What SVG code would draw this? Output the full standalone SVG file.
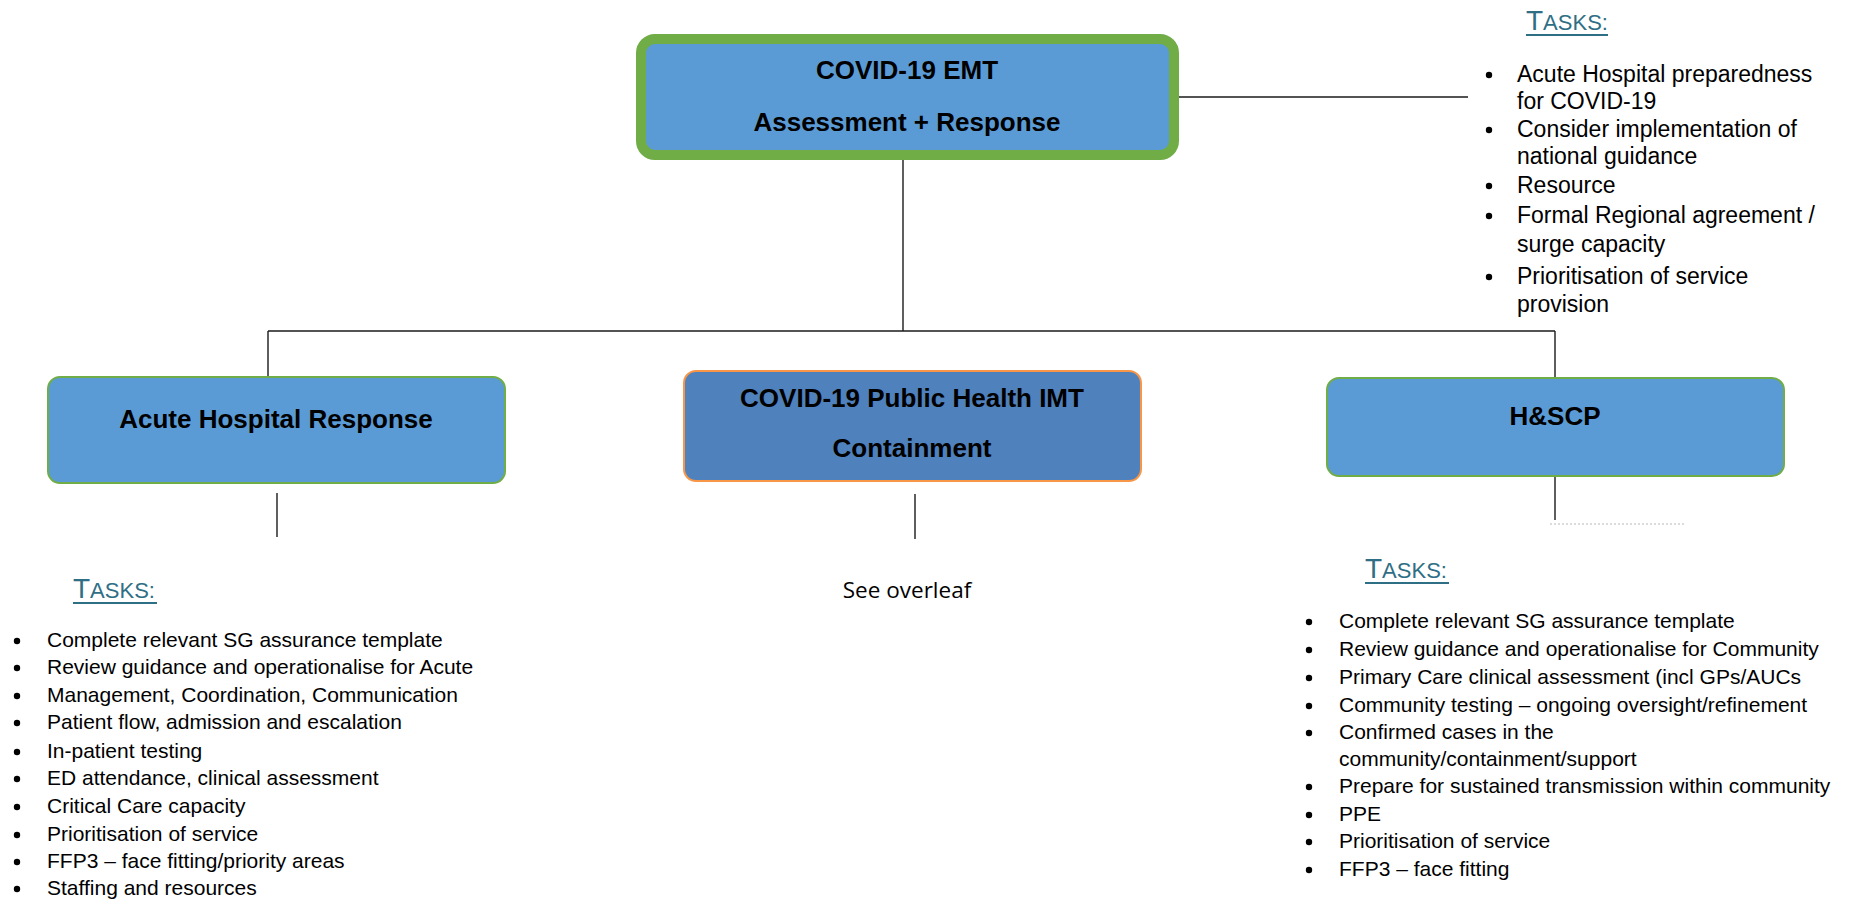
<svg xmlns="http://www.w3.org/2000/svg" xmlns:xlink="http://www.w3.org/1999/xlink" width="1850" height="901" viewBox="0 0 1850 901">
  <style>
    .box-blue { fill: #5b9bd5; }
    .title { font-family: "Liberation Sans", Arial, sans-serif; font-weight: bold; font-size: 26px; fill: #000; text-anchor: middle; }
    .hdr { font-family: "Liberation Sans", Arial, sans-serif; fill: #2f6f86; }
    .item { font-family: "Liberation Sans", Arial, sans-serif; font-size: 21px; fill: #000; }
    .item-lg { font-family: "Liberation Sans", Arial, sans-serif; font-size: 23px; fill: #000; }
    .note { font-family: "Open Sans", "Noto Sans", sans-serif; font-size: 22.5px; fill: #000; text-anchor: middle; }
    .link { stroke: #1a1a1a; stroke-width: 1.4; fill: none; }
    .uline { stroke: #2f6f86; stroke-width: 2; }
  </style>
  <defs>
    <circle id="dot" r="3.2" fill="#000"/>
  </defs>

  <rect width="1850" height="901" fill="#ffffff"/>

  <!-- connectors -->
  <g id="connectors">
    <line class="link" x1="903" y1="160" x2="903" y2="331"/>
    <line class="link" x1="268" y1="331" x2="1555" y2="331"/>
    <line class="link" x1="268" y1="331" x2="268" y2="377"/>
    <line class="link" x1="1555" y1="331" x2="1555" y2="378"/>
    <line class="link" x1="1179" y1="97" x2="1468" y2="97"/>
    <line class="link" x1="277" y1="493" x2="277" y2="537"/>
    <line class="link" x1="915" y1="494" x2="915" y2="539"/>
    <line class="link" x1="1555" y1="476" x2="1555" y2="520"/>
    <line x1="1550" y1="524" x2="1685" y2="524" stroke="#b8b8b8" stroke-width="1" stroke-dasharray="2 2"/>
  </g>

  <!-- EMT (top) -->
  <g id="node-emt">
    <rect x="641" y="39" width="533" height="116" rx="14" class="box-blue" stroke="#70ad47" stroke-width="10"/>
    <text class="title" x="907" y="79">COVID-19 EMT</text>
    <text class="title" x="907" y="131">Assessment + Response</text>
  </g>

  <!-- Acute Hospital Response -->
  <g id="node-acute">
    <rect x="48" y="377" width="457" height="106" rx="12" class="box-blue" stroke="#70ad47" stroke-width="2"/>
    <text class="title" x="276" y="428">Acute Hospital Response</text>
  </g>

  <!-- Public Health IMT -->
  <g id="node-imt">
    <rect x="684" y="371" width="457" height="110" rx="12" fill="#4f81bd" stroke="#f79646" stroke-width="2"/>
    <text class="title" x="912" y="407">COVID-19 Public Health IMT</text>
    <text class="title" x="912" y="457">Containment</text>
  </g>

  <!-- H&SCP -->
  <g id="node-hscp">
    <rect x="1327" y="378" width="457" height="98" rx="12" class="box-blue" stroke="#70ad47" stroke-width="2"/>
    <text class="title" x="1555" y="425">H&amp;SCP</text>
  </g>

  <!-- EMT tasks -->
  <g id="tasks-emt">
    <text class="hdr" x="1526" y="30"><tspan font-size="28">T</tspan><tspan font-size="22">ASKS:</tspan></text>
    <line class="uline" x1="1526" y1="35" x2="1608" y2="35"/>
    <use xlink:href="#dot" x="1489" y="75"/>
    <text class="item-lg" x="1517" y="82">Acute Hospital preparedness</text>
    <text class="item-lg" x="1517" y="109">for COVID-19</text>
    <use xlink:href="#dot" x="1489" y="130"/>
    <text class="item-lg" x="1517" y="137">Consider implementation of</text>
    <text class="item-lg" x="1517" y="164">national guidance</text>
    <use xlink:href="#dot" x="1489" y="186"/>
    <text class="item-lg" x="1517" y="193">Resource</text>
    <use xlink:href="#dot" x="1489" y="216"/>
    <text class="item-lg" x="1517" y="223">Formal Regional agreement /</text>
    <text class="item-lg" x="1517" y="252">surge capacity</text>
    <use xlink:href="#dot" x="1489" y="277"/>
    <text class="item-lg" x="1517" y="284">Prioritisation of service</text>
    <text class="item-lg" x="1517" y="312">provision</text>
  </g>

  <!-- Acute tasks -->
  <g id="tasks-acute">
    <text class="hdr" x="73" y="598"><tspan font-size="28">T</tspan><tspan font-size="22">ASKS:</tspan></text>
    <line class="uline" x1="73" y1="603" x2="157" y2="603"/>
    <use xlink:href="#dot" x="17" y="641"/>
    <text class="item" x="47" y="647">Complete relevant SG assurance template</text>
    <use xlink:href="#dot" x="17" y="668"/>
    <text class="item" x="47" y="674">Review guidance and operationalise for Acute</text>
    <use xlink:href="#dot" x="17" y="696"/>
    <text class="item" x="47" y="702">Management, Coordination, Communication</text>
    <use xlink:href="#dot" x="17" y="723"/>
    <text class="item" x="47" y="729">Patient flow, admission and escalation</text>
    <use xlink:href="#dot" x="17" y="752"/>
    <text class="item" x="47" y="758">In-patient testing</text>
    <use xlink:href="#dot" x="17" y="779"/>
    <text class="item" x="47" y="785">ED attendance, clinical assessment</text>
    <use xlink:href="#dot" x="17" y="807"/>
    <text class="item" x="47" y="813">Critical Care capacity</text>
    <use xlink:href="#dot" x="17" y="835"/>
    <text class="item" x="47" y="841">Prioritisation of service</text>
    <use xlink:href="#dot" x="17" y="862"/>
    <text class="item" x="47" y="868">FFP3 – face fitting/priority areas</text>
    <use xlink:href="#dot" x="17" y="889"/>
    <text class="item" x="47" y="895">Staffing and resources</text>
  </g>

  <!-- IMT note -->
  <g id="note-imt">
    <text class="note" x="907" y="598">See overleaf</text>
  </g>

  <!-- H&SCP tasks -->
  <g id="tasks-hscp">
    <text class="hdr" x="1365" y="578"><tspan font-size="28">T</tspan><tspan font-size="22">ASKS:</tspan></text>
    <line class="uline" x1="1365" y1="583" x2="1449" y2="583"/>
    <use xlink:href="#dot" x="1309" y="622"/>
    <text class="item" x="1339" y="628">Complete relevant SG assurance template</text>
    <use xlink:href="#dot" x="1309" y="650"/>
    <text class="item" x="1339" y="656">Review guidance and operationalise for Community</text>
    <use xlink:href="#dot" x="1309" y="678"/>
    <text class="item" x="1339" y="684">Primary Care clinical assessment (incl GPs/AUCs</text>
    <use xlink:href="#dot" x="1309" y="706"/>
    <text class="item" x="1339" y="712">Community testing – ongoing oversight/refinement</text>
    <use xlink:href="#dot" x="1309" y="733"/>
    <text class="item" x="1339" y="739">Confirmed cases in the</text>
    <text class="item" x="1339" y="766">community/containment/support</text>
    <use xlink:href="#dot" x="1309" y="787"/>
    <text class="item" x="1339" y="793">Prepare for sustained transmission within community</text>
    <use xlink:href="#dot" x="1309" y="815"/>
    <text class="item" x="1339" y="821">PPE</text>
    <use xlink:href="#dot" x="1309" y="842"/>
    <text class="item" x="1339" y="848">Prioritisation of service</text>
    <use xlink:href="#dot" x="1309" y="870"/>
    <text class="item" x="1339" y="876">FFP3 – face fitting</text>
  </g>
</svg>
